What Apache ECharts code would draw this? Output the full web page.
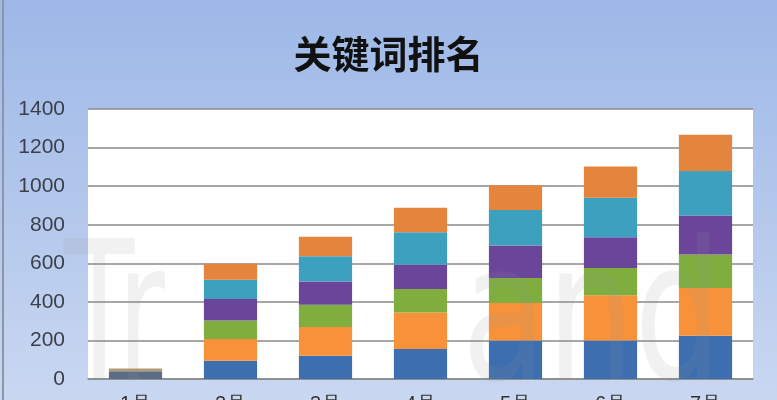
<!DOCTYPE html>
<html>
<head>
<meta charset="utf-8">
<script src="https://cdn.jsdelivr.net/npm/echarts@6/dist/echarts.min.js"></script>
<style>
html,body{margin:0;padding:0;}
#c{width:777px;height:400px;background:linear-gradient(180deg,#9db8e7 0%,#b3c7ec 50%,#c9d7f1 100%);}
</style>
</head>
<body>
<div id="c"></div>
<script>
var categories = ['1月', '2月', '3月', '4月', '5月', '6月', '7月'];
var s1 = [40, 95, 121, 155, 199, 199, 224];
var s2 = [15, 112, 148, 190, 195, 235, 248];
var s3 = [0, 96, 116, 122, 130, 142, 173];
var s4 = [0, 112, 121, 126, 168, 159, 203];
var s5 = [0, 100, 131, 168, 184, 205, 231];
var s6 = [0, 83, 100, 127, 128, 162, 187];
var yTicks = [0, 200, 400, 600, 800, 1000, 1200, 1400];

var colors = ['#3d6eb0', '#f7923a', '#7fae3f', '#6a459a', '#3ea0bf', '#e5853d'];
var allSeries = [s1, s2, s3, s4, s5, s6];

var chart = echarts.init(document.getElementById('c'), null, {renderer: 'canvas'});
chart.setOption({
  backgroundColor: 'transparent',
  animation: false,
  title: {
    text: '关键词排名',
    left: 'center',
    top: 30,
    textStyle: {fontFamily: 'Noto Sans CJK SC', fontWeight: 'bold', fontSize: 38, color: '#111'}
  },
  grid: {left: 88, right: 24, top: 109, bottom: 21, show: true, backgroundColor: '#ffffff', borderWidth: 0, outerBoundsMode: 'none', containLabel: false},
  xAxis: {
    type: 'category',
    data: categories,
    axisLine: {show: true, lineStyle: {color: '#8a8a8a', width: 1.5}},
    axisTick: {show: false},
    axisLabel: {margin: 15, fontSize: 20, color: '#333', fontFamily: 'Liberation Sans'}
  },
  yAxis: {
    type: 'value',
    min: yTicks[0],
    max: yTicks[yTicks.length - 1],
    interval: 200,
    axisLine: {show: false},
    axisTick: {show: false},
    splitLine: {lineStyle: {color: '#8a8a8a', width: 1.5}},
    axisLabel: {margin: 23, fontSize: 21, color: '#3a3f4a', fontFamily: 'Liberation Sans', formatter: function (v) { return String(v); }}
  },
  series: allSeries.map(function (arr, i) {
    return {
      type: 'bar',
      stack: 'total',
      barCategoryGap: '44%',
      data: arr.map(function (v, j) {
        if (i === 0 && j === 0) return {value: v, itemStyle: {color: '#5b6d86'}};
        if (i === 1 && j === 0) return {value: v, itemStyle: {color: '#b39a72'}};
        return v;
      }),
      itemStyle: {color: colors[i]}
    };
  }),
  graphic: [
    {type: 'rect', left: 2, top: 0, shape: {width: 2, height: 400}, style: {fill: '#8d96a6'}, z: 100},
    {type: 'text', x: 64, y: 425, scaleX: 0.6, z: 100, silent: true,
      style: {text: 'Tr', fontSize: 192, fontFamily: 'DejaVu Sans', fontWeight: 'normal', fill: 'rgba(150,150,150,0.13)', verticalAlign: 'bottom'}},
    {type: 'text', x: 462, y: 425, scaleX: 0.72, z: 100, silent: true,
      style: {text: 'and', fontSize: 192, fontFamily: 'DejaVu Sans', fontWeight: 'normal', fill: 'rgba(150,150,150,0.13)', verticalAlign: 'bottom'}}
  ]
});
</script>
</body>
</html>
